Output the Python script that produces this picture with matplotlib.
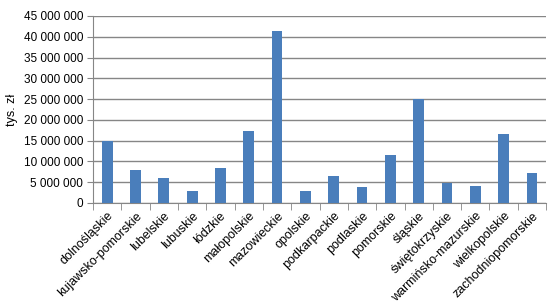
import matplotlib.pyplot as plt
import numpy as np
from matplotlib.ticker import FuncFormatter, FixedLocator

# Dane: województwa i wartości (tys. zł)
wojewodztwa = ["dolnośląskie", "kujawsko-pomorskie", "lubelskie", "lubuskie",
               "łódzkie", "małopolskie", "mazowieckie", "opolskie",
               "podkarpackie", "podlaskie", "pomorskie", "śląskie",
               "świętokrzyskie", "warmińsko-mazurskie", "wielkopolskie",
               "zachodniopomorskie"]
wartosci = [15000000, 7900000, 6000000, 2900000,
            8400000, 17300000, 41400000, 2900000,
            6500000, 3850000, 11550000, 24900000,
            4900000, 4100000, 16600000, 7200000]

plt.rcParams['font.family'] = ['Liberation Sans', 'DejaVu Sans']

fig = plt.figure(figsize=(5.55, 3.07), dpi=100)
ax = fig.add_axes([0.1676, 0.339, 0.8164, 0.609])

x = np.arange(len(wojewodztwa))
ax.bar(x, wartosci, width=0.38, color="#4A7EBB", zorder=3)

ax.set_xlim(-0.5, len(wojewodztwa) - 0.5)
ax.set_ylim(0, 45000000)
ax.set_yticks(np.arange(0, 45000001, 5000000))
ax.yaxis.set_major_formatter(FuncFormatter(lambda v, p: f"{int(v):,}".replace(",", " ")))
ax.grid(axis="y", color="#868686", linewidth=1, zorder=0)

# etykiety kategorii i znaczniki między kategoriami
ax.set_xticks(x)
ax.set_xticklabels(wojewodztwa, rotation=45, ha="right", rotation_mode="anchor", fontsize=9)
ax.tick_params(axis="x", length=0, pad=5)
ax.xaxis.set_minor_locator(FixedLocator(np.arange(-0.5, len(wojewodztwa), 1)))
ax.tick_params(axis="x", which="minor", length=5, color="#868686")
ax.tick_params(axis="y", length=4, color="#868686", labelsize=8.5, pad=3)

for s in ["top", "right"]:
    ax.spines[s].set_visible(False)
for s in ["left", "bottom"]:
    ax.spines[s].set_color("#868686")

ax.set_ylabel("tys. zł", fontsize=9, labelpad=4)

plt.savefig("out.png", dpi=100)
